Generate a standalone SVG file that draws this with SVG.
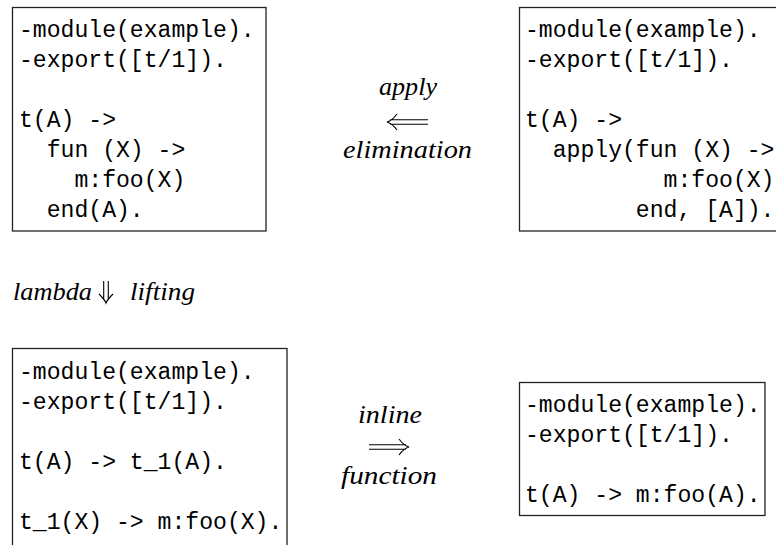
<svg xmlns="http://www.w3.org/2000/svg" width="776" height="545" viewBox="0 0 776 545">
<style>
.box{fill:#fff;stroke:#222;stroke-width:1.3}
.code{font-family:"Liberation Mono","DejaVu Sans Mono",monospace;font-size:23.1px;fill:#000;white-space:pre}
.lbl{font-family:"Liberation Serif","DejaVu Serif",serif;font-style:italic;font-size:26px;fill:#000}
.arr{fill:none;stroke:#000;stroke-width:1.1}
</style>
<rect width="776" height="545" fill="#fff"/>
<g id="node-original">
<rect class="box" x="12.5" y="7.5" width="253.5" height="223.5"/>
<text class="code" xml:space="preserve"><tspan x="19" y="37">-module(example).</tspan><tspan x="19" y="67">-export([t/1]).</tspan><tspan x="19" y="127">t(A) -&gt;</tspan><tspan x="19" y="157">  fun (X) -&gt;</tspan><tspan x="19" y="187">    m:foo(X)</tspan><tspan x="19" y="217">  end(A).</tspan></text>
</g>
<g id="node-apply">
<rect class="box" x="519.5" y="7.5" width="280" height="223.5"/>
<text class="code" xml:space="preserve"><tspan x="525" y="37">-module(example).</tspan><tspan x="525" y="67">-export([t/1]).</tspan><tspan x="525" y="127">t(A) -&gt;</tspan><tspan x="525" y="157">  apply(fun (X) -&gt;</tspan><tspan x="525" y="187">          m:foo(X)</tspan><tspan x="525" y="217">        end, [A]).</tspan></text>
</g>
<g id="node-lifted">
<rect class="box" x="12.5" y="348.5" width="274.5" height="220"/>
<text class="code" xml:space="preserve"><tspan x="19" y="378.5">-module(example).</tspan><tspan x="19" y="408.5">-export([t/1]).</tspan><tspan x="19" y="468.5">t(A) -&gt; t_1(A).</tspan><tspan x="19" y="528.5">t_1(X) -&gt; m:foo(X).</tspan></text>
</g>
<g id="node-inlined">
<rect class="box" x="519.5" y="382.5" width="245.5" height="133"/>
<text class="code" xml:space="preserve"><tspan x="525" y="412">-module(example).</tspan><tspan x="525" y="442">-export([t/1]).</tspan><tspan x="525" y="502">t(A) -&gt; m:foo(A).</tspan></text>
</g>
<g id="connectors">
<g id="edge-apply-elimination">
<path class="arr" d="M390,119.7 H428 M390,124.3 H428 M397,114 C394,118 391,121 387,122 C391,123 394,126 397,130"/>
<text class="lbl" x="379" y="95" textLength="58" lengthAdjust="spacingAndGlyphs">apply</text>
<text class="lbl" x="343" y="158" textLength="129" lengthAdjust="spacingAndGlyphs">elimination</text>
</g>
<g id="edge-lambda-lifting">
<path class="arr" d="M103.7,281 V300 M108.3,281 V300 M99,294 C102,297 105,300 106,303 C107,300 110,297 113,294"/>
<text class="lbl" x="13" y="300" textLength="79" lengthAdjust="spacingAndGlyphs">lambda</text>
<text class="lbl" x="130" y="300" textLength="65" lengthAdjust="spacingAndGlyphs">lifting</text>
</g>
<g id="edge-inline-function">
<path class="arr" d="M369,444.7 H406 M369,449.3 H406 M399,439 C402,443 405,446 409,447 C405,448 402,451 399,455"/>
<text class="lbl" x="358" y="423" textLength="64" lengthAdjust="spacingAndGlyphs">inline</text>
<text class="lbl" x="341" y="484" textLength="96" lengthAdjust="spacingAndGlyphs">function</text>
</g>
</g>
</svg>
